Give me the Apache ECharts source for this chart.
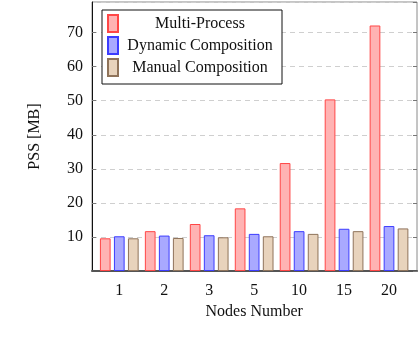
<!DOCTYPE html>
<html>
<head>
<meta charset="utf-8">
<script src="https://cdn.jsdelivr.net/npm/echarts@6/dist/echarts.min.js"></script>
<style>
  html, body { margin: 0; padding: 0; background: #fff; }
  #main { width: 418px; height: 342px; }
</style>
</head>
<body>
<div id="main"></div>
<script>
// data
var nodes = ['1', '2', '3', '5', '10', '15', '20'];
var multiProcess = [9.6, 11.7, 13.8, 18.4, 31.7, 50.4, 72.1];
var dynamicComp = [10.2, 10.4, 10.5, 10.9, 11.7, 12.4, 13.2];
var manualComp = [9.6, 9.7, 9.9, 10.2, 10.9, 11.7, 12.5];
var seriesNames = ['Multi-Process', 'Dynamic Composition', 'Manual Composition'];

var font = '"Liberation Serif", "DejaVu Serif", serif';
var fs = 16;
var yMax = 79;

var chart = echarts.init(document.getElementById('main'));

function barSeries(name, data, fill, border) {
    return {
        name: name,
        type: 'bar',
        xAxisIndex: 1,
        yAxisIndex: 2,
        data: data,
        barWidth: 10.7,
        barGap: '31%',
        itemStyle: { color: fill, borderColor: border, borderWidth: 1 }
    };
}

var option = {
    animation: false,
    textStyle: { fontFamily: font },
    grid: [
        // outer frame, y axis and grid lines
        { left: 92, right: 1, top: 2, bottom: 71, show: true, borderColor: '#8a8a8a', borderWidth: 1 },
        // bar area (pgfplots leaves some space at both ends)
        { left: 96.8, right: 6.5, top: 2, bottom: 71 }
    ],
    legend: {
        data: seriesNames,
        orient: 'vertical',
        left: 102,
        top: 10,
        itemWidth: 10,
        itemHeight: 17,
        itemGap: 3,
        itemTextGap: 5,
        padding: [4, 5, 7, 5],
        backgroundColor: '#fff',
        borderColor: '#111',
        borderWidth: 1,
        icon: 'rect',
        formatter: function (name) { return '{t|' + name + '}'; },
        textStyle: {
            fontFamily: font,
            fontSize: fs,
            color: '#111',
            rich: { t: { width: 154, lineHeight: 17, align: 'center', fontFamily: font, fontSize: fs, color: '#111' } }
        }
    },
    xAxis: [
        {
            type: 'value', gridIndex: 0, min: 0, max: 1,
            axisLine: { show: true, lineStyle: { color: '#555', width: 2 } },
            axisTick: { show: false }, axisLabel: { show: false }, splitLine: { show: false }
        },
        {
            type: 'category', gridIndex: 1, data: nodes,
            axisLine: { show: false }, axisTick: { show: false },
            axisLabel: { fontFamily: font, fontSize: fs, color: '#111', margin: 12 },
            name: 'Nodes Number', nameLocation: 'middle', nameGap: 28,
            nameTextStyle: { fontFamily: font, fontSize: fs, color: '#111' }
        }
    ],
    yAxis: [
        {
            type: 'value', gridIndex: 0, min: 0, max: yMax, interval: 10,
            axisLine: { show: true, lineStyle: { color: '#111', width: 1 } },
            axisTick: { show: true, inside: true, length: 4, lineStyle: { color: '#777' } },
            axisLabel: { fontFamily: font, fontSize: fs, color: '#111', margin: 9, showMinLabel: false, showMaxLabel: false },
            splitLine: { show: true, lineStyle: { color: '#cfcfcf', type: [5, 4] } },
            name: 'PSS [MB]', nameLocation: 'middle', nameGap: 49,
            nameTextStyle: { fontFamily: font, fontSize: fs, color: '#111' }
        },
        {
            type: 'value', gridIndex: 0, position: 'right', min: 0, max: yMax, interval: 10,
            axisLine: { show: false },
            axisTick: { show: true, inside: true, length: 4, lineStyle: { color: '#777' } },
            axisLabel: { show: false }, splitLine: { show: false }
        },
        { type: 'value', gridIndex: 1, min: 0, max: yMax, show: false }
    ],
    series: [
        barSeries(seriesNames[0], multiProcess, '#ffb3b3', '#ff4646'),
        barSeries(seriesNames[1], dynamicComp, '#a9a9ff', '#3c3cff'),
        barSeries(seriesNames[2], manualComp, '#e8d3bc', '#8f735a')
    ]
};

chart.setOption(option);
</script>
</body>
</html>
